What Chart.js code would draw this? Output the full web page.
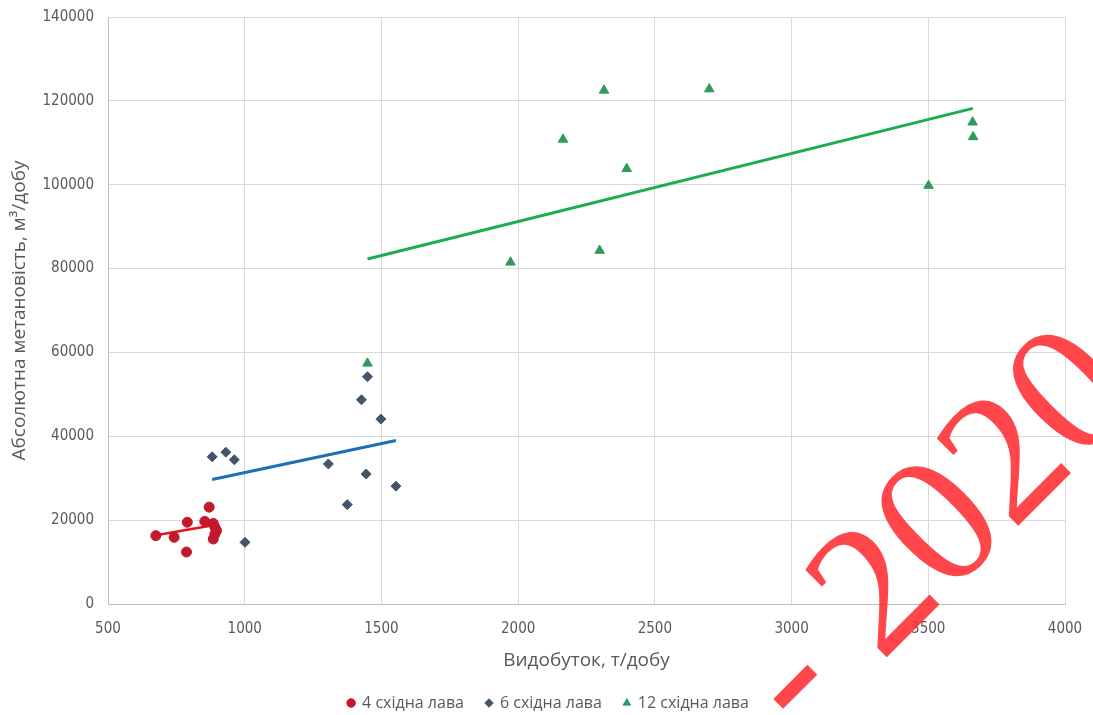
<!DOCTYPE html>
<html>
<head>
<meta charset="utf-8">
<script src="https://cdn.jsdelivr.net/npm/chart.js@4.4.1/dist/chart.umd.min.js"></script>
<style>
  html, body { margin: 0; padding: 0; background: #fff; }
  #wrap { width: 1093px; height: 715px; }
</style>
</head>
<body>
<div id="wrap"><canvas id="chart"></canvas></div>
<script>
// 4 східна лава
const lava4X = [675, 742, 787, 790, 854, 870, 885, 891, 897, 891, 885];
const lava4Y = [16300, 15900, 12400, 19500, 19700, 23100, 19200, 18300, 17500, 16700, 15500];
const trend4X = [675, 885];
const trend4Y = [16400, 18800];

// 6 східна лава
const lava6X = [881, 931, 962, 1001, 1306, 1375, 1427, 1444, 1449, 1498, 1553];
const lava6Y = [35100, 36200, 34400, 14700, 33400, 23700, 48700, 31000, 54200, 44100, 28100];
const trend6X = [881, 1553];
const trend6Y = [29700, 39000];

// 12 східна лава
const lava12X = [1449, 1972, 2164, 2298, 2314, 2397, 2699, 3501, 3662, 3664];
const lava12Y = [57400, 81500, 110800, 84300, 122500, 103800, 122800, 99800, 114900, 111400];
const trend12X = [1449, 3663];
const trend12Y = [82300, 118200];

const seriesNames = ['4 східна лава', '6 східна лава', '12 східна лава'];

function pts(xs, ys) {
    return xs.map((x, i) => ({ x: x, y: ys[i] }));
}

const tickFont = { family: '"Liberation Sans Narrow", "DejaVu Sans Condensed", sans-serif', size: 15 };
const titleFont = { family: '"Open Sans", sans-serif', size: 19 };
const greyText = '#595959';

// red "- 2020" stamp over the picture
const stamp = {
    id: 'stamp',
    afterDraw(chart) {
        const c = chart.ctx;
        c.save();
        c.translate(881, 663);
        c.rotate(-Math.PI / 4);
        c.font = '186px "Liberation Serif", "DejaVu Serif", serif';
        c.fillStyle = 'rgba(255, 45, 50, 0.88)';
        c.textBaseline = 'alphabetic';
        c.textAlign = 'left';
        const w = c.measureText('- ').width;
        c.fillText('- 2020', -w, 0);
        c.restore();
    }
};

// push the legend a few px lower / right, like in the original
const legendNudge = {
    id: 'legendNudge',
    afterLayout(chart) {
        const lg = chart.legend;
        if (lg) {
            lg.top += 6;
            lg.bottom += 6;
            lg.left += 16;
            lg.right += 16;
        }
    }
};

const ctx = document.getElementById('chart').getContext('2d');

new Chart(ctx, {
    type: 'scatter',
    data: {
        datasets: [
            {
                label: seriesNames[0],
                data: pts(lava4X, lava4Y),
                pointStyle: 'circle',
                pointRadius: 5,
                backgroundColor: '#C4182C',
                borderColor: '#C4182C'
            },
            {
                label: seriesNames[1],
                data: pts(lava6X, lava6Y),
                pointStyle: 'rectRot',
                pointRadius: 5,
                backgroundColor: '#44546A',
                borderColor: '#44546A'
            },
            {
                label: seriesNames[2],
                data: pts(lava12X, lava12Y),
                pointStyle: 'triangle',
                pointRadius: 5.5,
                backgroundColor: '#2E9A5C',
                borderColor: '#2E9A5C'
            },
            {
                label: 'trend4',
                data: pts(trend4X, trend4Y),
                showLine: true,
                pointRadius: 0,
                borderColor: '#E3141E',
                borderWidth: 2.5
            },
            {
                label: 'trend6',
                data: pts(trend6X, trend6Y),
                showLine: true,
                pointRadius: 0,
                borderColor: '#1E6FB4',
                borderWidth: 3
            },
            {
                label: 'trend12',
                data: pts(trend12X, trend12Y),
                showLine: true,
                pointRadius: 0,
                borderColor: '#1CAD52',
                borderWidth: 3
            }
        ]
    },
    options: {
        responsive: true,
        maintainAspectRatio: false,
        animation: false,
        layout: { padding: { top: 17, right: 28, bottom: 0, left: 0 } },
        scales: {
            x: {
                type: 'linear',
                min: 500,
                max: 4000,
                ticks: {
                    stepSize: 500, color: greyText, font: tickFont, padding: 16,
                    callback: v => String(v)
                },
                grid: { color: '#D9D9D9', drawTicks: false },
                border: { color: '#BFBFBF' },
                title: {
                    display: true,
                    text: 'Видобуток, т/добу',
                    color: greyText,
                    font: titleFont,
                    padding: { top: 2, bottom: -5 }
                },
                afterFit: s => {
                    s.height = 63;
                    s.paddingLeft = 0;
                    s.paddingRight = 0;
                }
            },
            y: {
                min: 0,
                max: 140000,
                ticks: {
                    stepSize: 20000, color: greyText, font: tickFont, padding: 14,
                    callback: v => String(v)
                },
                grid: { color: '#D9D9D9', drawTicks: false },
                border: { color: '#BFBFBF' },
                title: {
                    display: true,
                    text: 'Абсолютна метановість, м³/добу',
                    color: greyText,
                    font: titleFont,
                    padding: { top: 8, bottom: 4 }
                },
                afterFit: s => {
                    s.width = 108;
                    s.paddingTop = 0;
                    s.paddingBottom = 0;
                }
            }
        },
        plugins: {
            legend: {
                position: 'bottom',
                labels: {
                    usePointStyle: true,
                    boxWidth: 6,
                    boxHeight: 6,
                    padding: 22,
                    color: greyText,
                    font: { family: '"Open Sans", sans-serif', size: 16 },
                    filter: item => item.datasetIndex < 3
                }
            },
            tooltip: { enabled: false }
        }
    },
    plugins: [stamp, legendNudge]
});
</script>
</body>
</html>
